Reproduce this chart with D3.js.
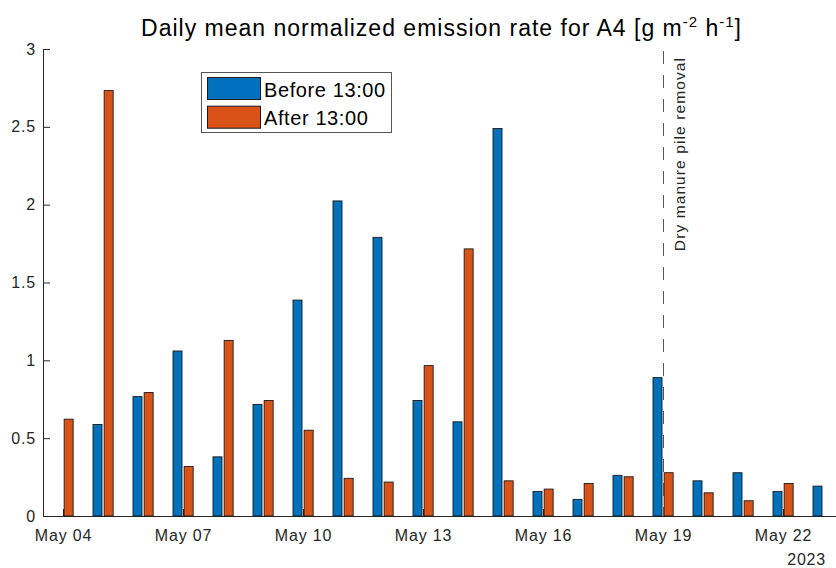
<!DOCTYPE html>
<html>
<head>
<meta charset="utf-8">
<script src="https://cdn.jsdelivr.net/npm/d3@7.9.0/dist/d3.min.js"></script>
<style>
  body { margin: 0; background: #fff; }
  svg { display: block; font-family: "Liberation Sans", Arial, sans-serif; }
</style>
</head>
<body>
<svg id="chart" width="836" height="568"></svg>
<script>
/* ---------------------------------------------------------
   DATA
--------------------------------------------------------- */
const days = [
  '2023-05-04', '2023-05-05', '2023-05-06', '2023-05-07', '2023-05-08',
  '2023-05-09', '2023-05-10', '2023-05-11', '2023-05-12', '2023-05-13',
  '2023-05-14', '2023-05-15', '2023-05-16', '2023-05-17', '2023-05-18',
  '2023-05-19', '2023-05-20', '2023-05-21', '2023-05-22', '2023-05-23',
];
// mean rate before 13:00 (null = no data)
const before = [
  null, 0.588, 0.767, 1.06, 0.38, 0.716, 1.387, 2.024, 1.79, 0.742,
  0.605, 2.489, 0.158, 0.107, 0.261, 0.889, 0.226, 0.278, 0.158, 0.192,
];
// mean rate after 13:00
const after = [
  0.622, 2.733, 0.793, 0.318, 1.128, 0.742, 0.551, 0.242, 0.218, 0.966,
  1.716, 0.226, 0.173, 0.209, 0.252, 0.278, 0.149, 0.098, 0.209, null,
];
const seriesNames = ['Before 13:00', 'After 13:00'];
const seriesColors = ['#0072BD', '#D95319'];

const yTicks = [0, 0.5, 1, 1.5, 2, 2.5, 3];
const xTickDays = ['2023-05-04', '2023-05-07', '2023-05-10', '2023-05-13',
  '2023-05-16', '2023-05-19', '2023-05-22'];
const xLimits = ['2023-05-03 12:00', '2023-05-23 12:00'];
const yearLabel = '2023';

const eventDay = '2023-05-19';
const eventLabel = 'Dry manure pile removal';

/* ---------------------------------------------------------
   SCALES
--------------------------------------------------------- */
const parseDay = d3.timeParse('%Y-%m-%d');
const parseTime = d3.timeParse('%Y-%m-%d %H:%M');
const ink = '#262626';

const svg = d3.select('#chart');

const xScale = d3.scaleTime()
  .domain(xLimits.map(parseTime))
  .range([43, 843]);

const yScale = d3.scaleLinear()
  .domain([0, 3])
  .range([516, 49]);

/* ---------------------------------------------------------
   AXES
--------------------------------------------------------- */
const xAxis = d3.axisBottom(xScale)
  .tickValues(xTickDays.map(parseDay))
  .tickFormat(d3.timeFormat('%b %d'))
  .tickSizeInner(-7)
  .tickSizeOuter(0)
  .tickPadding(14);

const yAxis = d3.axisLeft(yScale)
  .tickValues(yTicks)
  .tickFormat((d) => String(d))
  .tickSizeInner(-7)
  .tickSizeOuter(0)
  .tickPadding(7);

const gx = svg.append('g')
  .attr('transform', 'translate(0,516)')
  .call(xAxis);

const gy = svg.append('g')
  .attr('transform', 'translate(43,0)')
  .call(yAxis);

[gx, gy].forEach((g) => {
  g.select('.domain').attr('stroke', ink);
  g.selectAll('.tick line').attr('stroke', ink);
  g.selectAll('.tick text')
    .attr('fill', ink)
    .style('font-size', '16px')
    .style('letter-spacing', '0.8px')
    .style('font-family', '"Liberation Sans", Arial, sans-serif');
});

svg.append('text')
  .attr('x', 826)
  .attr('y', 565)
  .attr('text-anchor', 'end')
  .attr('fill', ink)
  .style('font-size', '16px')
  .style('letter-spacing', '0.8px')
  .text(yearLabel);

/* ---------------------------------------------------------
   BARS
--------------------------------------------------------- */
// hour offsets of each bar's edges relative to the day
const barEdges = [[-6, -0.6], [0.7, 6.1]];

const rows = days.map((d, i) => ({ date: parseDay(d), values: [before[i], after[i]] }));

const bars = svg.append('g');
[0, 1].forEach((s) => {
  bars.append('g')
    .selectAll('rect')
    .data(rows.filter((r) => r.values[s] != null))
    .join('rect')
    .attr('x', (d) => xScale(d3.timeMinute.offset(d.date, barEdges[s][0] * 60)))
    .attr('width', (d) =>
      xScale(d3.timeMinute.offset(d.date, barEdges[s][1] * 60)) -
      xScale(d3.timeMinute.offset(d.date, barEdges[s][0] * 60)))
    .attr('y', (d) => yScale(d.values[s]))
    .attr('height', (d) => yScale(0) - yScale(d.values[s]))
    .attr('fill', seriesColors[s])
    .attr('stroke', '#1a1a1a')
    .attr('stroke-width', 0.9);
});

/* ---------------------------------------------------------
   EVENT LINE
--------------------------------------------------------- */
const ex = Math.round(xScale(parseDay(eventDay))) + 0.5;
svg.append('line')
  .attr('x1', ex).attr('x2', ex)
  .attr('y1', 51).attr('y2', yScale(0))
  .attr('stroke', '#555')
  .attr('stroke-width', 1)
  .attr('stroke-dasharray', '13,11');

svg.append('text')
  .attr('transform', `translate(${ex + 21},57) rotate(-90)`)
  .attr('text-anchor', 'end')
  .attr('fill', ink)
  .style('font-size', '15.5px')
  .style('letter-spacing', '1.1px')
  .text(eventLabel);

/* ---------------------------------------------------------
   TITLE
--------------------------------------------------------- */
const title = svg.append('text')
  .attr('x', 441.5)
  .attr('y', 36)
  .attr('text-anchor', 'middle')
  .attr('fill', '#000')
  .style('font-size', '23px')
  .style('letter-spacing', '1px');
title.append('tspan').text('Daily mean normalized emission rate for A4 [g m');
title.append('tspan').attr('dy', -9).style('font-size', '15px').text('-2');
title.append('tspan').attr('dy', 9).text(' h');
title.append('tspan').attr('dy', -9).style('font-size', '15px').text('-1');
title.append('tspan').attr('dy', 9).text(']');

/* ---------------------------------------------------------
   LEGEND
--------------------------------------------------------- */
const legend = svg.append('g');
legend.append('rect')
  .attr('x', 201.5).attr('y', 72.5)
  .attr('width', 190).attr('height', 60)
  .attr('fill', '#fff')
  .attr('stroke', '#555')
  .attr('stroke-width', 1);

seriesNames.forEach((name, i) => {
  const top = 77.5 + i * 28.7;
  legend.append('rect')
    .attr('x', 207.5).attr('y', top)
    .attr('width', 53).attr('height', 22)
    .attr('fill', seriesColors[i])
    .attr('stroke', '#1a1a1a')
    .attr('stroke-width', 1);
  legend.append('text')
    .attr('x', 264)
    .attr('y', top + 19)
    .attr('fill', '#000')
    .style('font-size', '20px')
    .style('letter-spacing', '0.6px')
    .text(name);
});
</script>
</body>
</html>
